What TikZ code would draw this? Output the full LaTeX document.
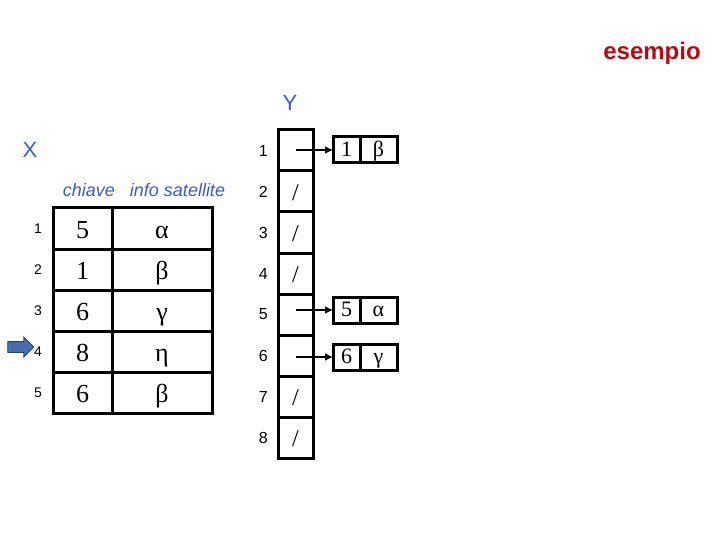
\documentclass[tikz,border=0pt]{standalone}
\usepackage{fontspec}
\setmainfont{Liberation Serif}
\setsansfont{Liberation Sans}
\usetikzlibrary{arrows.meta,positioning,shapes.arrows}
\definecolor{labblue}{RGB}{60,90,200}
\definecolor{redtitle}{RGB}{185,10,20}
\definecolor{ptrblue}{RGB}{70,110,175}

\begin{document}
\begin{tikzpicture}[x=1pt,y=-1pt,
    ycell/.style={draw,line width=3pt,minimum width=35pt,minimum height=41pt,
                  inner sep=0pt,outer sep=0pt},
    xkey/.style={draw,line width=3pt,minimum width=59pt,minimum height=41pt,
                 inner sep=0pt,outer sep=0pt,text height=19pt,text depth=0pt,
                 font=\fontsize{26}{26}\selectfont},
    xinfo/.style={xkey,minimum width=100pt},
    reckey/.style={draw,line width=3pt,minimum width=27pt,minimum height=26pt,
                   inner sep=0pt,outer sep=0pt,text height=13pt,text depth=0pt,
                   font=\fontsize{22}{22}\selectfont},
    recval/.style={reckey,minimum width=37pt},
    ylab/.style={inner sep=0pt,font=\sffamily\fontsize{16}{16}\selectfont},
    xlab/.style={inner sep=0pt,font=\sffamily\fontsize{14}{14}\selectfont},
    slash/.style={font=\fontsize{24}{24}\selectfont},
    tabname/.style={text=labblue,font=\sffamily\fontsize{22}{22}\selectfont},
    ptr/.style={-{Latex[length=8pt,width=8pt]},line width=2.2pt},
  ]
    \useasboundingbox (0,0) rectangle (720,540);

    % title
    \node[text=redtitle,font=\sffamily\bfseries\fontsize{24}{24}\selectfont] (title) at (652,53) {esempio};

    % table X
    \node[tabname] (xname) at (30,150) {X};
    \node[text=labblue,font=\sffamily\itshape\fontsize{18}{18}\selectfont] (head) at (144,190) {chiave\ \ \ info satellite};
    \foreach \k/\v [count=\i] in {5/α,1/β,6/γ,8/η,6/β} {
      \node[xkey] (k\i) at (82.5,{208+41*(\i-0.5)}) {\k};
      \node[xinfo,right=0pt of k\i] (v\i) {\v};
      \node[xlab,left=11pt of k\i] (n\i) {\i};
    }
    \node[single arrow,fill=ptrblue,draw=ptrblue!60!black,line width=0.8pt,
          minimum height=26pt,single arrow head extend=4.5pt,
          inner sep=5pt] (cur) at (18,347) {};

    % table Y
    \node[tabname] (yname) at (290,103) {Y};
    \foreach \i in {1,...,8} {
      \node[ycell] (y\i) at (295.5,{130+41*(\i-0.5)}) {};
      \node[ylab,left=10pt of y\i] (m\i) {\i};
    }
    \foreach \i in {2,3,4,7,8}
      \node[slash] at ([yshift=-1pt]y\i.center) {/};

    % records
    \foreach \n/\k/\v/\y in {1/1/β/150,5/5/α/310,6/6/γ/357} {
      \node[reckey] (rk\n) at (346.5,\y) {\k};
      \node[recval,right=0pt of rk\n] (rv\n) {\v};
      \draw[ptr] (y\n.center |- rk\n.west) -- (rk\n.west);
    }
  \end{tikzpicture}
\end{document}
